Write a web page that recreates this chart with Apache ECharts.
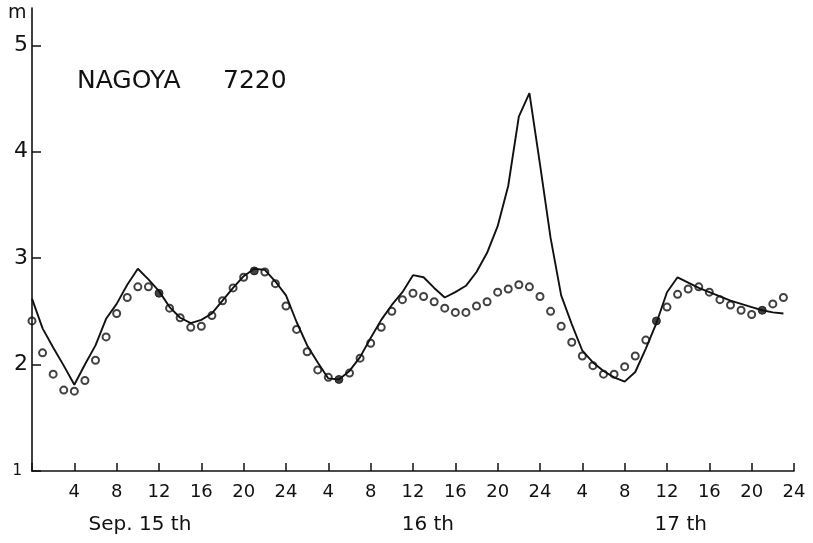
<!DOCTYPE html>
<html>
<head>
<meta charset="utf-8">
<script src="https://cdn.jsdelivr.net/npm/echarts@6/dist/echarts.min.js"></script>
<style>
  html, body { margin: 0; padding: 0; background: #fff; }
  #chart { width: 813px; height: 543px; }
</style>
</head>
<body>
<div id="chart"></div>
<script>
// Observed tide level (m), hourly from 0h Sep. 15
const observedLevel = [
  2.62, 2.34, 2.16, 1.99, 1.81, 2.00, 2.18, 2.43, 2.57, 2.75, 2.90, 2.80,
  2.69, 2.54, 2.44, 2.39, 2.42, 2.48, 2.60, 2.72, 2.83, 2.90, 2.89, 2.78,
  2.65, 2.40, 2.18, 2.02, 1.87, 1.86, 1.94, 2.07, 2.25, 2.42, 2.56, 2.68,
  2.84, 2.82, 2.72, 2.63, 2.68, 2.74, 2.87, 3.05, 3.30, 3.68, 4.33, 4.55,
  3.88, 3.19, 2.65, 2.38, 2.13, 2.02, 1.94, 1.88, 1.84, 1.93, 2.15, 2.39,
  2.68, 2.82, 2.77, 2.72, 2.68, 2.64, 2.60, 2.57, 2.54, 2.51, 2.49, 2.48
];
// Computed (astronomical) tide level (m), hourly from 0h Sep. 15
const computedLevel = [
  2.41, 2.11, 1.91, 1.76, 1.75, 1.85, 2.04, 2.26, 2.48, 2.63, 2.73, 2.73,
  2.67, 2.53, 2.44, 2.35, 2.36, 2.46, 2.60, 2.72, 2.82, 2.88, 2.87, 2.76,
  2.55, 2.33, 2.12, 1.95, 1.88, 1.86, 1.92, 2.06, 2.20, 2.35, 2.50, 2.61,
  2.67, 2.64, 2.59, 2.53, 2.49, 2.49, 2.55, 2.59, 2.68, 2.71, 2.75, 2.73,
  2.64, 2.50, 2.36, 2.21, 2.08, 1.99, 1.91, 1.91, 1.98, 2.08, 2.23, 2.41,
  2.54, 2.66, 2.71, 2.73, 2.68, 2.61, 2.56, 2.51, 2.47, 2.51, 2.57, 2.63
];
// Hours at which the computed point is drawn filled
const filledHours = [12, 21, 29, 59, 69];

const hourTickLabels = ['4', '8', '12', '16', '20', '24'];
const yTickValues = [1, 2, 3, 4, 5];
const dayLabels = ['Sep. 15 th', '16 th', '17 th'];
const dayLabelHours = [10.2, 37.4, 61.3];
const titleText = ['NAGOYA', '7220'];
const unitText = 'm';

const FONT = 'DejaVu Sans';
const INK = '#111';

const lineData = observedLevel.map((v, h) => [h, v]);
const hollowData = [];
const filledData = [];
computedLevel.forEach((v, h) => {
  if (filledHours.indexOf(h) >= 0) filledData.push([h, v]);
  else hollowData.push([h, v]);
});

const chart = echarts.init(document.getElementById('chart'), null, { renderer: 'canvas' });
chart.setOption({
  animation: false,
  backgroundColor: '#fff',
  grid: { left: 32, right: 19, top: 8, bottom: 72, containLabel: false },
  xAxis: [{
    type: 'value', min: 0, max: 72, interval: 4, position: 'bottom',
    axisLine: { show: true, onZero: false, lineStyle: { color: INK, width: 1.6 } },
    axisTick: { show: true, inside: true, length: 8, lineStyle: { color: INK, width: 1.5 } },
    splitLine: { show: false },
    axisLabel: {
      margin: 12, fontSize: 18, color: INK, fontFamily: FONT,
      formatter: function (v) {
        if (v <= 0) return '';
        return hourTickLabels[(Math.round(v / 4) - 1) % 6];
      }
    }
  }, {
    type: 'value', min: 0, max: 72, position: 'bottom',
    axisLine: { show: false }, axisTick: { show: false }, splitLine: { show: false },
    axisLabel: {
      customValues: dayLabelHours,
      margin: 44, fontSize: 20, color: INK, fontFamily: FONT,
      formatter: function (v) {
        const i = dayLabelHours.indexOf(v);
        return i >= 0 ? dayLabels[i] : '';
      }
    }
  }],
  yAxis: {
    type: 'value', min: 1, max: 5.35,
    axisLine: { show: true, lineStyle: { color: INK, width: 1.6 } },
    axisTick: { show: true, inside: true, length: 9, customValues: yTickValues, lineStyle: { color: INK, width: 1.5 } },
    splitLine: { show: false },
    axisLabel: {
      customValues: yTickValues,
      margin: 4, fontSize: 22, color: INK, fontFamily: FONT,
      formatter: function (v) { return v === 1 ? '{s|1}' : String(v); },
      rich: { s: { fontSize: 15, color: INK, fontFamily: FONT, padding: [0, 6, 0, 0] } }
    }
  },
  graphic: [
    { type: 'text', left: 77, top: 69, style: { text: titleText[0], fontSize: 25, fontFamily: FONT, fill: INK } },
    { type: 'text', left: 223, top: 69, style: { text: titleText[1], fontSize: 25, fontFamily: FONT, fill: INK } },
    { type: 'text', left: 8, top: 4, style: { text: unitText, fontSize: 19, fontFamily: FONT, fill: INK } }
  ],
  series: [{
    type: 'line', data: lineData, showSymbol: false, z: 2,
    lineStyle: { color: INK, width: 1.9 }
  }, {
    type: 'scatter', data: hollowData, symbol: 'circle', symbolSize: 7, z: 3,
    itemStyle: { color: 'rgba(255,255,255,0)', borderColor: INK, borderWidth: 2 }
  }, {
    type: 'scatter', data: filledData, symbol: 'circle', symbolSize: 8, z: 4,
    itemStyle: { color: INK, borderColor: INK, borderWidth: 1 }
  }]
});
</script>
</body>
</html>
